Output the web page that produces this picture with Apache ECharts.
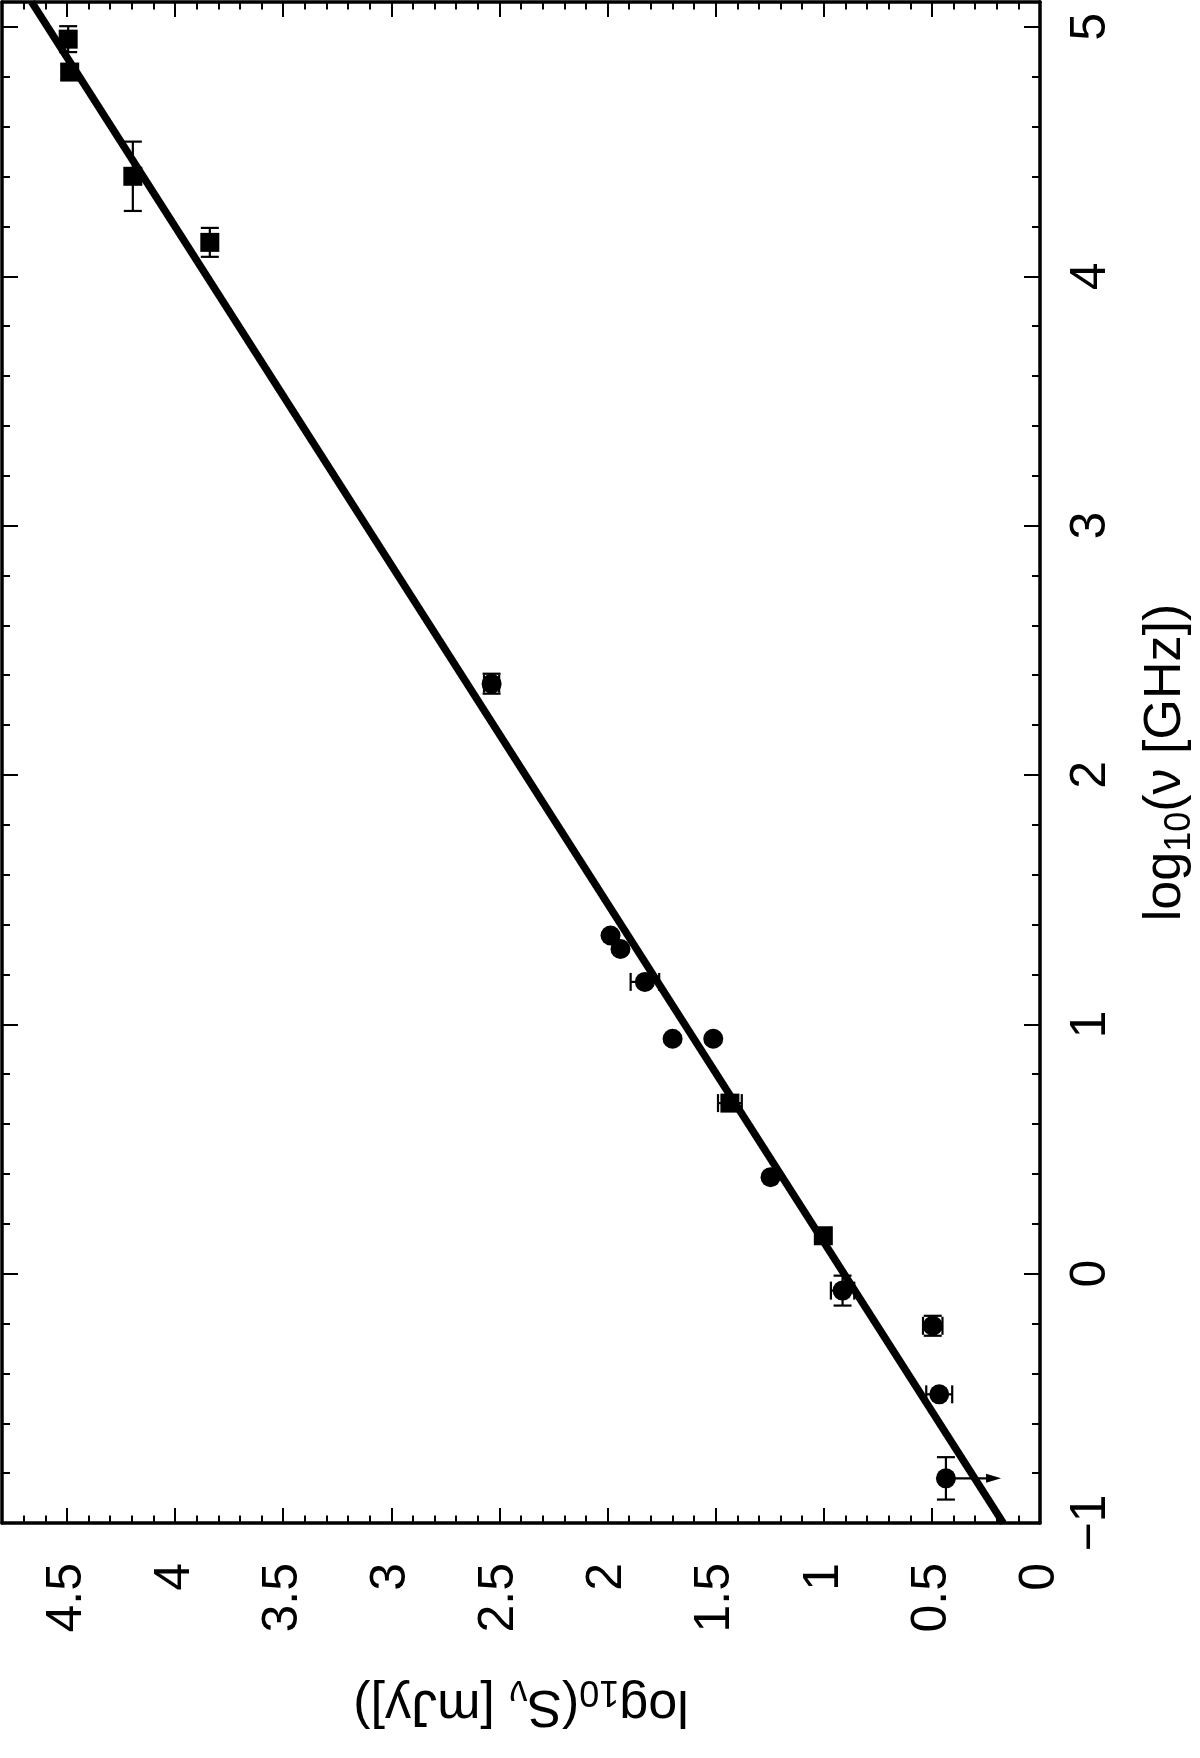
<!DOCTYPE html>
<html>
<head>
<meta charset="utf-8">
<script src="https://cdn.jsdelivr.net/npm/echarts@6/dist/echarts.min.js"></script>
<style>
html,body{margin:0;padding:0;background:#fff;}
#c{width:1200px;height:1758px;}
</style>
</head>
<body>
<div id="c"></div>
<script>
// ---- data: S = log10(S_nu [mJy]), N = log10(nu [GHz]) ----
// square markers
const sqS     = [4.494, 4.487, 4.195, 3.839, 1.434, 1.002];
const sqN     = [4.951, 4.819, 4.401, 4.136, 0.684, 0.152];
const sqErrS  = [0,     0,     0,     0,     0.055, 0.035];
const sqErrN  = [0.052, 0.03,  0.139, 0.058, 0,     0];
// circle markers
const ciS     = [2.536, 1.986, 1.940, 1.827, 1.699, 1.511, 1.246, 0.913, 0.496, 0.466, 0.435];
const ciN     = [2.366, 1.356, 1.302, 1.170, 0.942, 0.942, 0.387, -0.068, -0.209, -0.484, -0.821];
const ciErrS  = [0.035, 0,     0,     0.066, 0,     0,     0,     0.054, 0.045, 0.06,  0];
const ciErrN  = [0.04,  0,     0,     0,     0,     0,     0,     0.06,  0.04,  0,     0.085];
// upper-limit arrow (from point towards lower flux)
const ulS     = [0.435];
const ulN     = [-0.821];
const ulTipS  = [0.18];
// fitted power-law line end points
const fitS    = [0.17, 4.663];
const fitN    = [-1, 5.1];
// axis ticks
const sTicks  = [0, 0.5, 1, 1.5, 2, 2.5, 3, 3.5, 4, 4.5];
const nTicks  = [-1, 0, 1, 2, 3, 4, 5];

const FONT = 'Liberation Sans';
const rich = {
  n:   {fontSize: 52, fontFamily: FONT, color: '#000', lineHeight: 64, verticalAlign: 'middle'},
  sub: {fontSize: 36, fontFamily: FONT, color: '#000', lineHeight: 28, verticalAlign: 'bottom'}
};

const sqPts = sqS.map((s, i) => [s, sqN[i]]);
const ciPts = ciS.map((s, i) => [s, ciN[i]]);
const errRows = sqS.map((s, i) => [s, sqN[i], sqErrS[i], sqErrN[i]])
  .concat(ciS.map((s, i) => [s, ciN[i], ciErrS[i], ciErrN[i]]))
  .filter(r => r[2] > 0 || r[3] > 0);
const ulRows = ulS.map((s, i) => [s, ulN[i], ulTipS[i]]);
const fitPts = fitS.map((s, i) => [s, fitN[i]]);

function errItem(params, api) {
  const s = api.value(0), n = api.value(1), es = api.value(2), en = api.value(3);
  const style = {stroke: '#000', lineWidth: 2.2};
  const cap = 9;
  const ch = [];
  if (en > 0) {
    const a = api.coord([s, n - en]), b = api.coord([s, n + en]);
    ch.push({type: 'line', shape: {x1: a[0], y1: a[1], x2: b[0], y2: b[1]}, style});
    ch.push({type: 'line', shape: {x1: a[0] - cap, y1: a[1], x2: a[0] + cap, y2: a[1]}, style});
    ch.push({type: 'line', shape: {x1: b[0] - cap, y1: b[1], x2: b[0] + cap, y2: b[1]}, style});
  }
  if (es > 0) {
    const a = api.coord([s - es, n]), b = api.coord([s + es, n]);
    ch.push({type: 'line', shape: {x1: a[0], y1: a[1], x2: b[0], y2: b[1]}, style});
    ch.push({type: 'line', shape: {x1: a[0], y1: a[1] - cap, x2: a[0], y2: a[1] + cap}, style});
    ch.push({type: 'line', shape: {x1: b[0], y1: b[1] - cap, x2: b[0], y2: b[1] + cap}, style});
  }
  return {type: 'group', children: ch};
}

function ulItem(params, api) {
  const a = api.coord([api.value(0), api.value(1)]);
  const b = api.coord([api.value(2), api.value(1)]);
  const dir = b[0] > a[0] ? 1 : -1;
  const hl = 15, hw = 4.5;
  return {type: 'group', children: [
    {type: 'line', shape: {x1: a[0], y1: a[1], x2: b[0] - dir * hl * 0.6, y2: b[1]}, style: {stroke: '#000', lineWidth: 2.2}},
    {type: 'polygon', shape: {points: [[b[0], b[1]], [b[0] - dir * hl, b[1] - hw], [b[0] - dir * hl, b[1] + hw]]}, style: {fill: '#000'}}
  ]};
}

const lineCol = '#000';
function xAx(pos, major, labels) {
  return {
    type: 'value', position: pos, inverse: true, min: 0, max: 4.8,
    interval: major ? 0.5 : 0.1,
    axisLine: {show: major, onZero: false, lineStyle: {color: lineCol, width: 3.5}},
    axisTick: {show: true, inside: true, length: major ? 15 : 7.5, lineStyle: {color: lineCol, width: 2}},
    axisLabel: labels ? {
      show: true, rotate: 90, fontSize: 50, fontFamily: FONT, color: '#000', margin: 40,
      showMaxLabel: false,
      formatter: v => sTicks.indexOf(+v.toFixed(2)) >= 0 ? String(+v.toFixed(2)) : ''
    } : {show: false},
    splitLine: {show: false},
    name: labels ? '{n|log}{sub|10}{n|(S}{sub|ν}{n| [mJy])}' : '',
    nameLocation: 'middle', nameRotate: 180, nameGap: 150,
    nameTextStyle: {fontSize: 52, fontFamily: FONT, color: '#000', rich: rich}
  };
}
function yAx(pos, major, labels) {
  return {
    type: 'value', position: pos, min: -1, max: 5.1,
    interval: major ? 1 : 0.2,
    axisLine: {show: major, onZero: false, lineStyle: {color: lineCol, width: 3.5}},
    axisTick: {show: true, inside: true, length: major ? 16 : 8, lineStyle: {color: lineCol, width: 2}},
    axisLabel: labels ? {
      show: true, rotate: 90, fontSize: 50, fontFamily: FONT, color: '#000', margin: 26,
      showMaxLabel: false,
      formatter: v => nTicks.indexOf(Math.round(v * 100) / 100) >= 0 ? String(Math.round(v)).replace('-', '\u2212') : ''
    } : {show: false},
    splitLine: {show: false},
    name: labels ? '{n|log}{sub|10}{n|(ν [GHz])}' : '',
    nameLocation: 'middle', nameRotate: 90, nameGap: 94,
    nameTextStyle: {fontSize: 52, fontFamily: FONT, color: '#000', rich: rich}
  };
}

const chart = echarts.init(document.getElementById('c'), null, {renderer: 'canvas'});
chart.setOption({
  animation: false,
  backgroundColor: '#fff',
  grid: {left: 2, right: 160, top: 2, bottom: 235, containLabel: false, outerBoundsMode: 'none'},
  xAxis: [xAx('bottom', true, true), xAx('bottom', false, false), xAx('top', true, false), xAx('top', false, false)],
  yAxis: [yAx('right', true, true), yAx('right', false, false), yAx('left', true, false), yAx('left', false, false)],
  series: [
    {type: 'line', data: fitPts, xAxisIndex: 0, yAxisIndex: 0, showSymbol: false, symbol: 'none',
     lineStyle: {color: '#000', width: 7.5}, clip: true, z: 3},
    {type: 'custom', renderItem: errItem, data: errRows, xAxisIndex: 0, yAxisIndex: 0, z: 4},
    {type: 'custom', renderItem: ulItem, data: ulRows, xAxisIndex: 0, yAxisIndex: 0, z: 4},
    {type: 'scatter', data: sqPts, symbol: 'rect', symbolSize: 19, itemStyle: {color: '#000', opacity: 1}, xAxisIndex: 0, yAxisIndex: 0, z: 5},
    {type: 'scatter', data: ciPts, symbol: 'circle', symbolSize: 20, itemStyle: {color: '#000', opacity: 1}, xAxisIndex: 0, yAxisIndex: 0, z: 5}
  ]
});
</script>
</body>
</html>
